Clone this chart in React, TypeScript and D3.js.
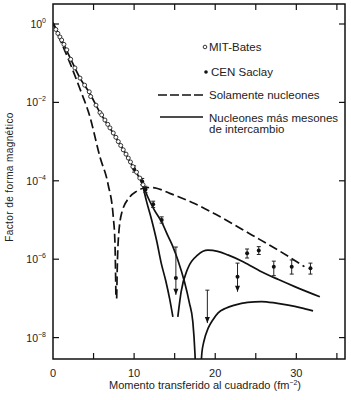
import React, { useEffect, useRef } from "react";
import * as d3 from "d3";

// q in fm^-2, values are log10 of the magnetic form factor
const mitQ = [0.35, 0.6, 0.85, 1.07, 1.35, 1.7, 2.18, 2.7, 3.33, 3.9, 4.47, 4.64, 5.3, 5.79, 6.0, 6.4, 6.75, 7.02, 7.43, 7.75, 8.05, 8.35, 8.66, 9.0, 9.28, 9.55, 9.85, 10.3, 10.7, 11.1];
const mitF = [-0.14, -0.24, -0.33, -0.41, -0.52, -0.66, -0.9, -1.12, -1.38, -1.56, -1.73, -1.85, -2.07, -2.26, -2.32, -2.45, -2.56, -2.65, -2.78, -2.89, -3.0, -3.1, -3.21, -3.32, -3.42, -3.52, -3.64, -3.78, -3.93, -4.1];

const saclayQ = [10.0, 11.0, 11.4, 12.35, 13.4, 15.15, 22.75, 23.93, 25.37, 27.22, 29.43, 31.74];
const saclayF = [-3.7, -4.02, -4.22, -4.6, -5.0, -6.48, -6.45, -5.85, -5.78, -6.19, -6.19, -6.23];
const saclayHi = [-3.62, -3.94, -4.14, -4.52, -4.92, -5.69, -6.1, -5.74, -5.68, -6.05, -6.02, -6.1];
const saclayLo = [-3.78, -4.1, -4.3, -4.68, -5.08, -6.91, -6.83, -5.97, -5.88, -6.42, -6.38, -6.38];
const saclayArrow = [false, false, false, false, false, true, true, false, false, false, false, false];
// upper limit without point
const limitQ = [19.03];
const limitHi = [-6.79];
const limitLo = [-7.63];

const dashedA: [number, number][] = [[0, 0.03], [1.0, -0.46], [2.1, -1.0], [3.33, -1.66], [4.5, -2.33], [5.8, -3.4], [6.8, -4.1], [7.43, -4.92], [7.64, -5.6], [7.76, -7.0]];
const dashedB: [number, number][] = [[7.85, -7.0], [7.95, -6.0], [8.05, -5.51], [8.46, -4.83], [9.48, -4.41], [10.3, -4.27], [11.12, -4.19], [12.0, -4.17], [12.77, -4.19], [14.4, -4.32], [15.4, -4.4], [17.45, -4.58], [20.0, -4.85], [24.5, -5.38], [28.0, -5.8], [31.0, -6.19]];

const solidMain: [number, number][] = [[0, 0.03], [1.07, -0.41], [2.2, -0.9], [3.33, -1.38], [4.5, -1.76], [5.8, -2.26], [7.4, -2.78], [8.7, -3.22], [9.85, -3.64], [11.0, -4.05]];
const solidA1: [number, number][] = [[11.0, -4.05], [11.5, -4.5], [12.1, -4.95], [12.8, -5.55], [13.34, -6.1], [13.9, -6.55], [14.37, -7.0], [14.78, -7.47]];
const solidA2: [number, number][] = [[15.39, -7.47], [15.8, -6.83], [16.63, -6.23], [17.86, -5.89], [19.1, -5.77], [20.3, -5.8], [21.55, -5.89], [23.5, -6.07], [25.7, -6.32], [27.8, -6.52], [29.8, -6.7], [32.9, -6.96]];
const solidB1: [number, number][] = [[11.0, -4.05], [11.7, -4.42], [12.5, -4.75], [13.39, -5.05], [14.2, -5.42], [14.78, -5.68], [15.39, -6.02], [16.2, -6.57], [16.8, -7.1], [17.24, -7.6], [17.5, -8.4], [17.6, -8.9]];
const solidB2: [number, number][] = [[18.2, -8.9], [18.35, -8.4], [18.6, -8.1], [19.13, -7.76], [19.7, -7.55], [20.36, -7.37], [21.3, -7.25], [22.4, -7.17], [24.0, -7.1], [25.7, -7.08], [27.5, -7.12], [29.0, -7.17], [30.6, -7.24], [32.06, -7.32]];

const xTicks = [0, 5, 10, 15, 20, 25, 30, 35];
const xTickLabels = [0, 10, 20, 30];
const yExps = [0, -2, -4, -6, -8];

const W = 351;
const H = 400;
const font = "Liberation Sans, Arial, Helvetica, sans-serif";

export default function App() {
  const ref = useRef<SVGSVGElement | null>(null);

  useEffect(() => {
    if (!ref.current) return;
    const svg = d3.select(ref.current);
    svg.selectAll("*").remove();

    const left = 53, right = 345, top = 4, bottom = 359;
    const x = d3.scaleLinear().domain([0, 36]).range([left, right]);
    const y = d3.scaleLog().domain([Math.pow(10, -8.546), Math.pow(10, 0.51)]).range([bottom, top]);
    const Y = (l: number) => y(Math.pow(10, l));

    svg.append("defs").append("clipPath").attr("id", "plot")
      .append("rect").attr("x", left).attr("y", top).attr("width", right - left).attr("height", bottom - top);

    // frame
    svg.append("rect").attr("x", left).attr("y", top).attr("width", right - left).attr("height", bottom - top)
      .attr("fill", "none").attr("stroke", "#111").attr("stroke-width", 1.5);

    // x ticks (bottom up, top down)
    xTicks.filter(t => t > 0).forEach(t => {
      svg.append("line").attr("x1", x(t)).attr("x2", x(t)).attr("y1", bottom).attr("y2", bottom - 6)
        .attr("stroke", "#111").attr("stroke-width", 1.2);
      svg.append("line").attr("x1", x(t)).attr("x2", x(t)).attr("y1", top).attr("y2", top + 6)
        .attr("stroke", "#111").attr("stroke-width", 1.2);
    });
    xTickLabels.forEach(t => {
      svg.append("text").attr("x", x(t)).attr("y", 377).attr("text-anchor", "middle")
        .attr("font-family", font).attr("font-size", 11).attr("fill", "#222").text(String(t));
    });

    // y ticks
    yExps.forEach(e => {
      svg.append("line").attr("x1", left).attr("x2", left + 6).attr("y1", Y(e)).attr("y2", Y(e))
        .attr("stroke", "#111").attr("stroke-width", 1.2);
      svg.append("line").attr("x1", right).attr("x2", right - 6).attr("y1", Y(e)).attr("y2", Y(e))
        .attr("stroke", "#111").attr("stroke-width", 1.2);
      const t = svg.append("text").attr("x", 46).attr("y", Y(e) + 4).attr("text-anchor", "end")
        .attr("font-family", font).attr("font-size", 10.5).attr("fill", "#222");
      t.append("tspan").text("10");
      t.append("tspan").attr("dy", -5).attr("font-size", 7).text(String(e === 0 ? 0 : "\u2212" + Math.abs(e)));
    });

    // axis titles
    svg.append("text").attr("transform", `translate(13,177) rotate(-90)`)
      .attr("text-anchor", "middle").attr("font-family", font).attr("font-size", 10).attr("fill", "#222")
      .attr("letter-spacing", 0.4)
      .text("Factor de forma magnético");
    const xt = svg.append("text").attr("x", 205).attr("y", 389).attr("text-anchor", "middle")
      .attr("font-family", font).attr("font-size", 11).attr("fill", "#222");
    xt.append("tspan").text("Momento transferido al cuadrado (fm");
    xt.append("tspan").attr("dy", -4).attr("font-size", 7).text("\u22122");
    xt.append("tspan").attr("dy", 4).text(")");

    const plot = svg.append("g").attr("clip-path", "url(#plot)");
    const line = d3.line<[number, number]>().x(d => x(d[0])).y(d => Y(d[1])).curve(d3.curveMonotoneX);

    [dashedA, dashedB].forEach(c => {
      plot.append("path").attr("d", line(c)).attr("fill", "none").attr("stroke", "#111")
        .attr("stroke-width", 1.7).attr("stroke-dasharray", "9,4");
    });
    [solidMain, solidA1, solidA2, solidB1, solidB2].forEach(c => {
      plot.append("path").attr("d", line(c)).attr("fill", "none").attr("stroke", "#111")
        .attr("stroke-width", 1.7);
    });

    // Saclay points
    saclayQ.forEach((q, i) => {
      const cx = x(q);
      plot.append("line").attr("x1", cx).attr("x2", cx).attr("y1", Y(saclayHi[i])).attr("y2", Y(saclayLo[i]))
        .attr("stroke", "#222").attr("stroke-width", 1);
      if (saclayArrow[i]) {
        const yl = Y(saclayLo[i]);
        plot.append("path").attr("d", `M${cx - 2.5},${yl - 6}L${cx + 2.5},${yl - 6}L${cx},${yl}Z`).attr("fill", "#111");
        plot.append("line").attr("x1", cx - 2).attr("x2", cx + 2).attr("y1", Y(saclayHi[i])).attr("y2", Y(saclayHi[i]))
          .attr("stroke", "#222").attr("stroke-width", 1);
      } else {
        [saclayHi[i], saclayLo[i]].forEach(v => {
          plot.append("line").attr("x1", cx - 2).attr("x2", cx + 2).attr("y1", Y(v)).attr("y2", Y(v))
            .attr("stroke", "#222").attr("stroke-width", 1);
        });
      }
      plot.append("circle").attr("cx", cx).attr("cy", Y(saclayF[i])).attr("r", 2).attr("fill", "#111");
    });
    limitQ.forEach((q, i) => {
      const cx = x(q);
      const yl = Y(limitLo[i]);
      plot.append("line").attr("x1", cx).attr("x2", cx).attr("y1", Y(limitHi[i])).attr("y2", yl)
        .attr("stroke", "#222").attr("stroke-width", 1);
      plot.append("line").attr("x1", cx - 2).attr("x2", cx + 2).attr("y1", Y(limitHi[i])).attr("y2", Y(limitHi[i]))
        .attr("stroke", "#222").attr("stroke-width", 1);
      plot.append("path").attr("d", `M${cx - 2.5},${yl - 6}L${cx + 2.5},${yl - 6}L${cx},${yl}Z`).attr("fill", "#111");
    });

    // MIT-Bates open circles
    mitQ.forEach((q, i) => {
      plot.append("circle").attr("cx", x(q)).attr("cy", Y(mitF[i])).attr("r", 2)
        .attr("fill", "#fff").attr("stroke", "#222").attr("stroke-width", 0.9);
    });

    // legend
    const lg = svg.append("g").attr("font-family", font).attr("font-size", 11.5).attr("fill", "#222");
    lg.append("circle").attr("cx", 205).attr("cy", 47).attr("r", 1.8).attr("fill", "#fff").attr("stroke", "#222").attr("stroke-width", 0.9);
    lg.append("text").attr("x", 209).attr("y", 51).text("MIT-Bates");
    lg.append("circle").attr("cx", 206).attr("cy", 72).attr("r", 1.8).attr("fill", "#111");
    lg.append("text").attr("x", 211).attr("y", 76).text("CEN Saclay");
    lg.append("line").attr("x1", 158).attr("x2", 203).attr("y1", 95).attr("y2", 95)
      .attr("stroke", "#111").attr("stroke-width", 1.7).attr("stroke-dasharray", "9,3");
    lg.append("text").attr("x", 209).attr("y", 99).text("Solamente nucleones");
    lg.append("line").attr("x1", 160).attr("x2", 203).attr("y1", 117).attr("y2", 117)
      .attr("stroke", "#111").attr("stroke-width", 1.5);
    lg.append("text").attr("x", 209).attr("y", 122).text("Nucleones más mesones");
    lg.append("text").attr("x", 209).attr("y", 133).text("de intercambio");
  }, []);

  return <svg ref={ref} width={W} height={H} style={{ position: "absolute", left: 0, top: 0, background: "#fff" }} />;
}
